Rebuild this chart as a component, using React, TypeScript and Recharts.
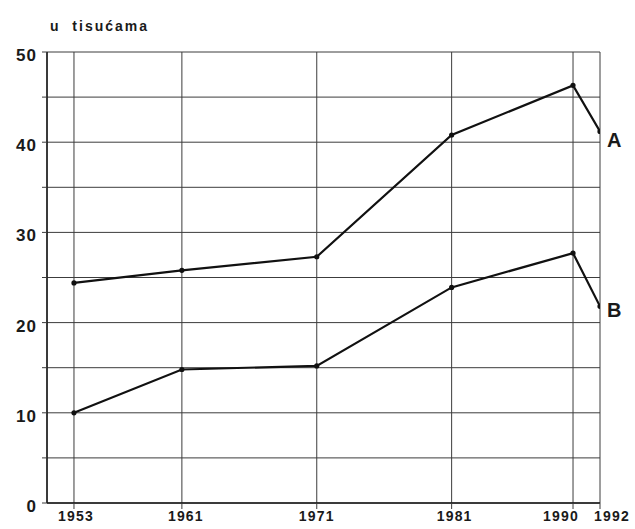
import { LineChart, Line, XAxis, YAxis, CartesianGrid } from "recharts";

const years = [1953, 1961, 1971, 1981, 1990, 1992];
const seriesA = [24.4, 25.8, 27.3, 40.8, 46.3, 41.2];
const seriesB = [10.0, 14.8, 15.2, 23.9, 27.7, 21.8];
const yTicks = [0, 5, 10, 15, 20, 25, 30, 35, 40, 45, 50];

const data = years.map((year, i) => ({ year, a: seriesA[i], b: seriesB[i] }));

// label nudges for the crowded right end of the x axis
const xLabelShift: Record<number, number> = { 1953: 2, 1961: 4, 1981: 3, 1990: -12, 1992: 12 };

const FONT = "'Liberation Sans', Arial, sans-serif";
const INK = "#1a1a1a";
const GRID = "#3c3c3c";

function XTick(props: any) {
  const { x, y, payload } = props;
  const dx = xLabelShift[payload.value] ?? 0;
  return (
    <text x={x + dx} y={y + 10} textAnchor="middle" fontFamily={FONT} fontSize={14}
      fontWeight={700} letterSpacing={1.2} fill={INK}>
      {payload.value}
    </text>
  );
}

function YTick(props: any) {
  const { x, y, payload } = props;
  if (payload.value % 10 !== 0) return null;
  return (
    <text x={x - 3} y={y + 9} textAnchor="end" fontFamily={FONT} fontSize={17}
      fontWeight={700} letterSpacing={1} fill={INK}>
      {payload.value}
    </text>
  );
}

function endLabel(text: string) {
  return (props: any) => {
    const { x, y, index } = props;
    if (index !== years.length - 1) return null;
    return (
      <text key={text} x={x + 7} y={y + (text === "A" ? 16 : 11)} fontFamily={FONT}
        fontSize={20} fontWeight={700} fill={INK}>
        {text}
      </text>
    );
  };
}

export default function App() {
  return (
    <div style={{ position: "absolute", left: 0, top: 0, width: 635, height: 529, background: "#fff" }}>
      <div style={{
        position: "absolute", left: 50, top: 19, fontFamily: FONT, fontSize: 14,
        fontWeight: 700, letterSpacing: 2, whiteSpace: "pre", lineHeight: 1, color: INK,
      }}>
        {"u  tisućama"}
      </div>
      <LineChart width={635} height={529} data={data}
        margin={{ top: 52, right: 35, left: 0, bottom: 0 }}>
        <CartesianGrid stroke={GRID} strokeWidth={1} />
        <XAxis dataKey="year" type="number" domain={[1951, 1992]} ticks={years}
          interval={0} allowDataOverflow height={26} tick={<XTick />} tickSize={6}
          tickLine={{ stroke: GRID }} axisLine={{ stroke: INK, strokeWidth: 1.5 }} />
        <YAxis type="number" domain={[0, 50]} ticks={yTicks} width={47} interval={0}
          tick={<YTick />} tickSize={5} tickLine={{ stroke: GRID }}
          axisLine={{ stroke: INK, strokeWidth: 1.5 }} />
        <Line dataKey="a" type="linear" stroke="#111" strokeWidth={2.2}
          dot={{ r: 1.5, fill: "#111", stroke: "#111" }} label={endLabel("A")}
          isAnimationActive={false} />
        <Line dataKey="b" type="linear" stroke="#111" strokeWidth={2.2}
          dot={{ r: 1.5, fill: "#111", stroke: "#111" }} label={endLabel("B")}
          isAnimationActive={false} />
      </LineChart>
    </div>
  );
}
